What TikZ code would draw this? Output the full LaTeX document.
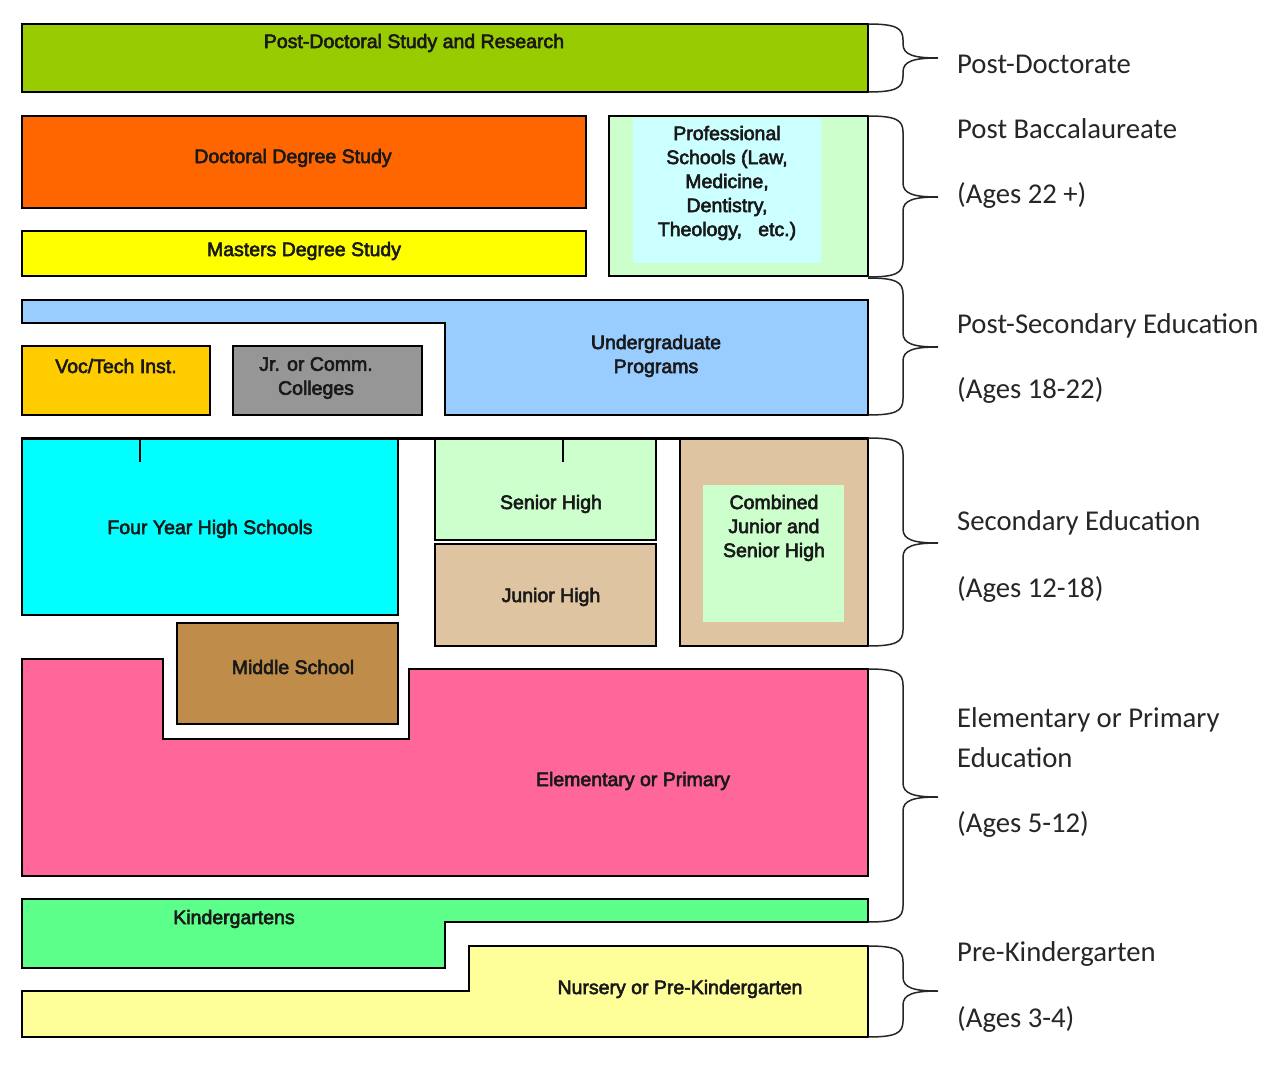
\documentclass[tikz,border=0pt]{standalone}
\usepackage{fontspec}
\setmainfont{Liberation Sans}
\newfontfamily\boxfont[FakeBold=3]{Liberation Sans}
\newfontfamily\labfont{Carlito}
\definecolor{cpostdoc}{HTML}{99CC00}
\definecolor{cdoct}{HTML}{FF6600}
\definecolor{cmast}{HTML}{FFFF00}
\definecolor{cprof}{HTML}{CCFFCC}
\definecolor{cprofin}{HTML}{CCFFFF}
\definecolor{cunder}{HTML}{99CCFF}
\definecolor{cvoc}{HTML}{FFCC00}
\definecolor{cjr}{HTML}{969696}
\definecolor{cfour}{HTML}{00FFFF}
\definecolor{csen}{HTML}{CCFFCC}
\definecolor{cjun}{HTML}{DEC4A0}
\definecolor{cmid}{HTML}{BF8C4A}
\definecolor{celem}{HTML}{FF6699}
\definecolor{ckind}{HTML}{5CFF8A}
\definecolor{cnurs}{HTML}{FFFF99}
\newcommand{\eduBrace}[3]{%
  \draw[brc] (868,#1) .. controls (896,#1) and (903,{#1+4}) .. (903,{#1+16})
    -- (903,{#2-14}) .. controls (903,{#2-3}) and (914,#2) .. (938,#2)
    .. controls (914,#2) and (903,{#2+3}) .. (903,{#2+14})
    -- (903,{#3-16}) .. controls (903,{#3-4}) and (896,#3) .. (868,#3);}
\begin{document}
\begin{tikzpicture}[x=1pt,y=-1pt,
  box/.style={draw=black, line width=1.3pt},
  btext/.style={font=\boxfont\fontsize{19.5}{24}\selectfont, text=black!90, align=center, inner sep=0pt},
  rlab/.style={font=\labfont\fontsize{28.7}{32}\selectfont, text=black!85, anchor=base west, inner sep=0pt},
  brc/.style={draw=black!85, line width=1.5pt}]
\useasboundingbox[fill=white] (0,0) rectangle (1264,1075);

% Post-doctoral
\draw[box, fill=cpostdoc] (22,24) rectangle (868,92);
\node[btext] (postdoc) at (414,43) {Post-Doctoral Study and Research};

% Doctoral / Masters
\draw[box, fill=cdoct] (22,116) rectangle (586,208);
\node[btext] (doct) at (293,158) {Doctoral Degree Study};
\draw[box, fill=cmast] (22,231) rectangle (586,276);
\node[btext] (mast) at (304,251) {Masters Degree Study};

% Professional
\draw[box, fill=cprof] (609,116) rectangle (868,276);
\fill[cprofin] (633,118) rectangle (821,263);
\node[btext] (prof) at (727,183) {Professional\\Schools (Law,\\Medicine,\\Dentistry,\\Theology,~~ etc.)};

% Undergraduate
\draw[box, fill=cunder] (22,300) -- (868,300) -- (868,415) -- (445,415) -- (445,323) -- (22,323) -- cycle;
\node[btext] (under) at (656,356) {Undergraduate\\Programs};
\draw[box, fill=cvoc] (22,346) rectangle (210,415);
\node[btext] (voc) at (116,366) {Voc/Tech Inst.};
\draw[box, fill=cjr] (233,346) rectangle (422,415);
\node[btext] (jr) at (316,378) {Jr. or Comm.\\Colleges};

% Secondary
\draw[box, fill=cfour] (22,438) rectangle (398,615);
\node[btext] (four) at (210,529) {Four Year High Schools};
\draw[box, fill=csen] (435,438) rectangle (656,540);
\node[btext] (sen) at (551,504) {Senior High};
\draw[box, fill=cjun] (435,544) rectangle (656,646);
\node[btext] (jun) at (551,597) {Junior High};
\draw[box, fill=cjun] (680,438) rectangle (868,646);
\fill[cprof] (703,485) rectangle (844,622);
\node[btext] (comb) at (774,528) {Combined\\Junior and\\Senior High};
\draw[line width=3pt] (22,438) -- (868,438);
\draw[line width=1.2pt] (140,438) -- (140,462);
\draw[line width=1.2pt] (563,438) -- (563,462);

% Middle / Elementary
\draw[box, fill=cmid] (177,623) rectangle (398,724);
\node[btext] (mid) at (293,667) {Middle School};
\draw[box, fill=celem] (22,659) -- (163,659) -- (163,739) -- (409,739) -- (409,669) -- (868,669) -- (868,876) -- (22,876) -- cycle;
\node[btext] (elem) at (633,781) {Elementary or Primary};

% Kindergarten / Nursery
\draw[box, fill=ckind] (22,899) -- (868,899) -- (868,922) -- (445,922) -- (445,968) -- (22,968) -- cycle;
\node[btext] (kind) at (234,919) {Kindergartens};
\draw[box, fill=cnurs] (22,991) -- (469,991) -- (469,946) -- (868,946) -- (868,1037) -- (22,1037) -- cycle;
\node[btext] (nurs) at (680,989) {Nursery or Pre-Kindergarten};

% Braces
\eduBrace{24}{58}{92}
\eduBrace{116}{197}{277}
\eduBrace{278}{347}{415}
\eduBrace{438}{543}{646}
\eduBrace{669}{797}{922}
\eduBrace{946}{991}{1037}

% Right labels
\node[rlab] (l1) at (957,74) {Post-Doctorate};
\node[rlab] (l2) at (957,139) {Post Baccalaureate};
\node[rlab] (l3) at (957,204) {(Ages 22 +)};
\node[rlab] (l4) at (957,334) {Post-Secondary Education};
\node[rlab] (l5) at (957,399) {(Ages 18-22)};
\node[rlab] (l6) at (957,530) {Secondary Education};
\node[rlab] (l7) at (957,597) {(Ages 12-18)};
\node[rlab] (l8) at (957,727) {Elementary or Primary};
\node[rlab] (l9) at (957,767) {Education};
\node[rlab] (l10) at (957,832) {(Ages 5-12)};
\node[rlab] (l11) at (957,961) {Pre-Kindergarten};
\node[rlab] (l12) at (957,1027) {(Ages 3-4)};
\end{tikzpicture}
\end{document}
